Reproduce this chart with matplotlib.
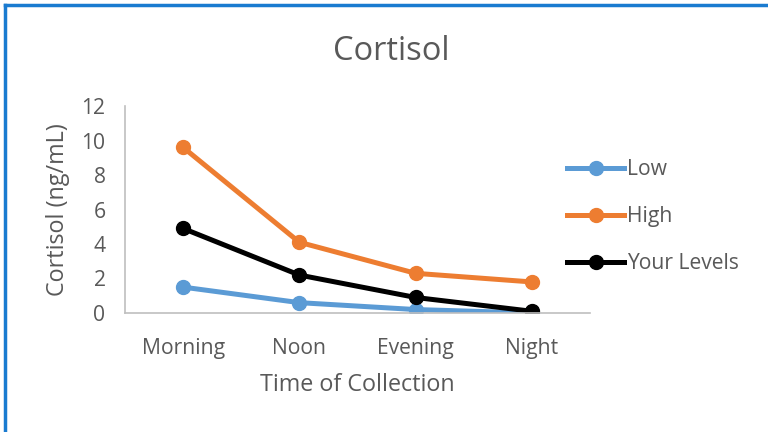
import matplotlib
matplotlib.use("Agg")
import matplotlib.pyplot as plt
from matplotlib.lines import Line2D

categories = ["Morning", "Noon", "Evening", "Night"]
low = [1.5, 0.6, 0.2, 0.0]
high = [9.6, 4.1, 2.3, 1.8]
your_levels = [4.9, 2.2, 0.9, 0.1]
series_names = ["Low", "High", "Your Levels"]
colors = ["#5B9BD5", "#ED7D31", "#000000"]

plt.rcParams['font.family'] = ['Open Sans', 'DejaVu Sans']
txt = "#595959"

W, H = 768, 432
fig = plt.figure(figsize=(W/100, H/100), dpi=100)
ax = fig.add_axes([125/W, 1-313/H, (590-125)/W, (313-106)/H])

x = range(len(categories))
for vals, name, c in zip([low, high, your_levels], series_names, colors):
    ax.plot(x, vals, color=c, lw=3.6, marker='o', markersize=10, label=name,
            solid_capstyle='round')

ax.set_xlim(-0.5, 3.5)
ax.set_ylim(0, 12)
ax.set_yticks(range(0, 13, 2))
ax.set_xticks(list(x))
ax.set_xticklabels(categories)
ax.tick_params(axis='both', length=0, labelsize=15.2, colors=txt)
ax.tick_params(axis='x', pad=18)
ax.tick_params(axis='y', pad=14)
for s in ['top', 'right']:
    ax.spines[s].set_visible(False)
for s in ['left', 'bottom']:
    ax.spines[s].set_color('#BFBFBF')
    ax.spines[s].set_linewidth(1.2)

ax.set_xlabel("Time of Collection", fontsize=16.8, color=txt, labelpad=10)
ax.set_ylabel("Cortisol (ng/mL)", fontsize=16.8, color=txt, labelpad=8)
fig.text(391/W, 1-52/H, "Cortisol", fontsize=23.5, color=txt, ha='center', va='center')

handles = [Line2D([], [], color=c, lw=3.6, marker='o', markersize=10) for c in colors]
leg = fig.legend(handles, series_names, loc='upper left',
                 bbox_to_anchor=(559/W, 1-151/H), frameon=False,
                 fontsize=15.2, labelspacing=1.22, handlelength=2.7,
                 handletextpad=0.1, borderaxespad=0)
for t in leg.get_texts():
    t.set_color(txt)

# chart border (top and left visible)
fig.add_artist(Line2D([5/W, 5/W], [0, 1-5/H], color='#1A7BD0', lw=2.5,
                      transform=fig.transFigure))
fig.add_artist(Line2D([5/W, 1], [1-5/H, 1-5/H], color='#1A7BD0', lw=2.5,
                      transform=fig.transFigure))

fig.savefig("out.png", dpi=100)
